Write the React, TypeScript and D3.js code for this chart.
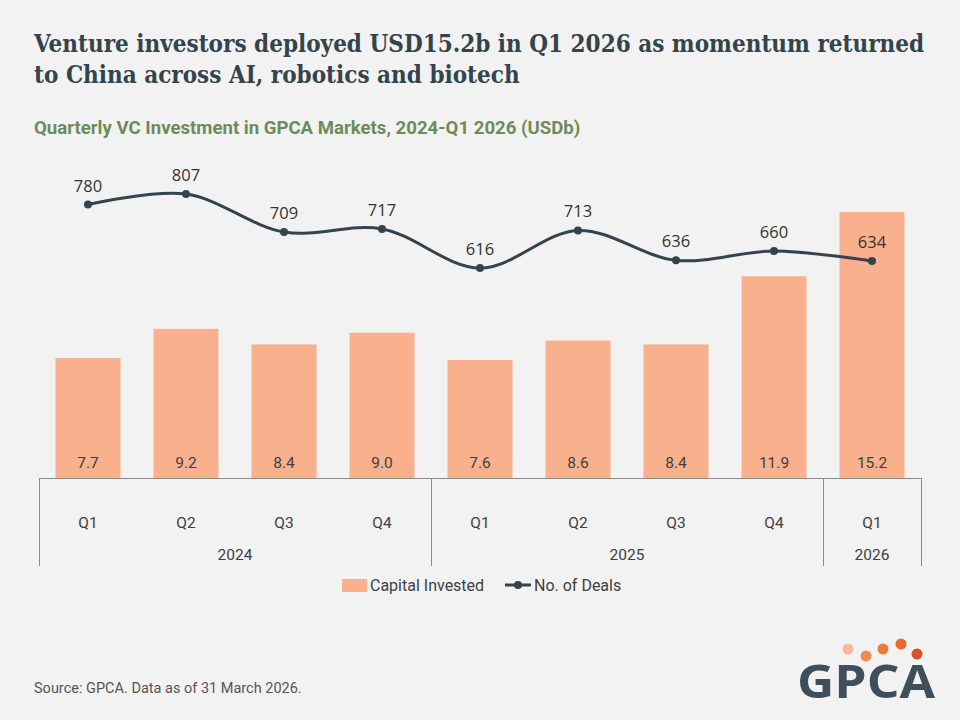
import React from 'react';
import * as d3 from 'd3';

// Quarterly VC investment in GPCA markets
const quarters = ['Q1', 'Q2', 'Q3', 'Q4', 'Q1', 'Q2', 'Q3', 'Q4', 'Q1'];
const years = ['2024', '2024', '2024', '2024', '2025', '2025', '2025', '2025', '2026'];
const capitalInvested = [7.7, 9.2, 8.4, 9.0, 7.6, 8.6, 8.4, 11.9, 15.2];
const dealCount = [780, 807, 709, 717, 616, 713, 636, 660, 634];

const W = 960;
const H = 720;
const BG = '#f2f2f2';
const SLATE = '#34444c';
const BAR = '#f8b08d';
const AXIS = '#8a8a8a';

const App: React.FC = () => {
    const left = 39;
    const right = 921;
    const baseY = 478;

    const x = d3
        .scaleBand<number>()
        .domain(d3.range(quarters.length))
        .range([left, right])
        .paddingInner(0.337)
        .paddingOuter(0.1685);

    // bars sit on a non-zero axis floor, as in the source chart
    const yBar = d3.scaleLinear().domain([1.54, 18]).range([baseY, baseY - (18 - 1.54) * 19.47]);
    const yLine = d3.scaleLinear().domain([500, 900]).range([313, 158]);

    const cx = (i: number) => (x(i) || 0) + x.bandwidth() / 2;

    const line = d3
        .line<number>()
        .x((_, i) => cx(i))
        .y(d => yLine(d))
        .curve(d3.curveCatmullRom.alpha(0.5));

    // year groups for the two-level axis
    const groups: { year: string; start: number; end: number }[] = [];
    years.forEach((yr, i) => {
        const g = groups[groups.length - 1];
        if (g && g.year === yr) g.end = i;
        else groups.push({ year: yr, start: i, end: i });
    });
    const step = x.step();
    const edge = (i: number) => left + i * step;

    const logoDots = [
        { dx: 848, dy: 649, c: '#f6b899' },
        { dx: 866, dy: 656, c: '#ee8c54' },
        { dx: 883, dy: 649, c: '#ec7b3a' },
        { dx: 901, dy: 644, c: '#e86a2c' },
        { dx: 917, dy: 654, c: '#d5532b' },
    ];

    return (
        <svg width={W} height={H} style={{ position: 'absolute', left: 0, top: 0, background: BG }}>
            <rect width={W} height={H} fill={BG} />

            {/* headline */}
            <g fill={SLATE} fontFamily="'DejaVu Serif Condensed', 'DejaVu Serif', serif" fontWeight={700} fontSize={24}>
                <text x={34} y={52}>Venture investors deployed USD15.2b in Q1 2026 as momentum returned</text>
                <text x={34} y={83}>to China across AI, robotics and biotech</text>
            </g>
            <text x={34} y={134} fill="#6f8b5c" fontFamily="Roboto, sans-serif" fontWeight={700} fontSize={18.6}>
                Quarterly VC Investment in GPCA Markets, 2024-Q1 2026 (USDb)
            </text>

            {/* bars */}
            {capitalInvested.map((v, i) => (
                <g key={`b${i}`}>
                    <rect x={x(i)} y={yBar(v)} width={x.bandwidth()} height={baseY - yBar(v)} fill={BAR} />
                    <text
                        x={cx(i)}
                        y={baseY - 10}
                        textAnchor="middle"
                        fontFamily="Roboto, sans-serif"
                        fontSize={15.5}
                        fill="#404040"
                    >
                        {v.toFixed(1)}
                    </text>
                </g>
            ))}

            {/* deals line */}
            <path d={line(dealCount) || ''} fill="none" stroke={SLATE} strokeWidth={3} />
            {dealCount.map((v, i) => (
                <g key={`p${i}`}>
                    <circle cx={cx(i)} cy={yLine(v)} r={4} fill={SLATE} />
                    <text
                        x={cx(i)}
                        y={yLine(v) - 13}
                        textAnchor="middle"
                        fontFamily="'Open Sans', sans-serif"
                        fontSize={16.5}
                        fill="#333"
                    >
                        {v}
                    </text>
                </g>
            ))}

            {/* two-level category axis */}
            <line x1={left} x2={right} y1={baseY + 0.5} y2={baseY + 0.5} stroke={AXIS} />
            {[0, ...groups.map(g => g.end + 1)].map((k, i) => (
                <line key={`t${i}`} x1={edge(k) + 0.5} x2={edge(k) + 0.5} y1={baseY} y2={566} stroke={AXIS} />
            ))}
            <g fontFamily="Roboto, sans-serif" fontSize={15.5} fill="#404040" textAnchor="middle">
                {quarters.map((q, i) => (
                    <text key={`q${i}`} x={cx(i)} y={528}>{q}</text>
                ))}
                {groups.map(g => (
                    <text key={g.year} x={(edge(g.start) + edge(g.end + 1)) / 2} y={560}>{g.year}</text>
                ))}
            </g>

            {/* legend */}
            <g fontFamily="Roboto, sans-serif" fontSize={16} fill="#404040">
                <rect x={342} y={579} width={25} height={13} fill={BAR} />
                <text x={370} y={591}>Capital Invested</text>
                <line x1={505} x2={531} y1={585} y2={585} stroke={SLATE} strokeWidth={3} />
                <circle cx={518} cy={585} r={4} fill={SLATE} />
                <text x={534} y={591}>No. of Deals</text>
            </g>

            <text x={34} y={693} fontFamily="Roboto, sans-serif" fontSize={14.5} fill="#555">
                Source: GPCA. Data as of 31 March 2026.
            </text>

            {/* logo */}
            {logoDots.map((d, i) => (
                <circle key={`d${i}`} cx={d.dx} cy={d.dy} r={5.5} fill={d.c} />
            ))}
            <text
                x={797}
                y={698}
                fontFamily="'Open Sans', sans-serif"
                fontWeight={700}
                fontSize={46}
                fill="#3e4f5b"
                textLength={138}
                lengthAdjust="spacingAndGlyphs"
            >
                GPCA
            </text>
        </svg>
    );
};

export default App;
